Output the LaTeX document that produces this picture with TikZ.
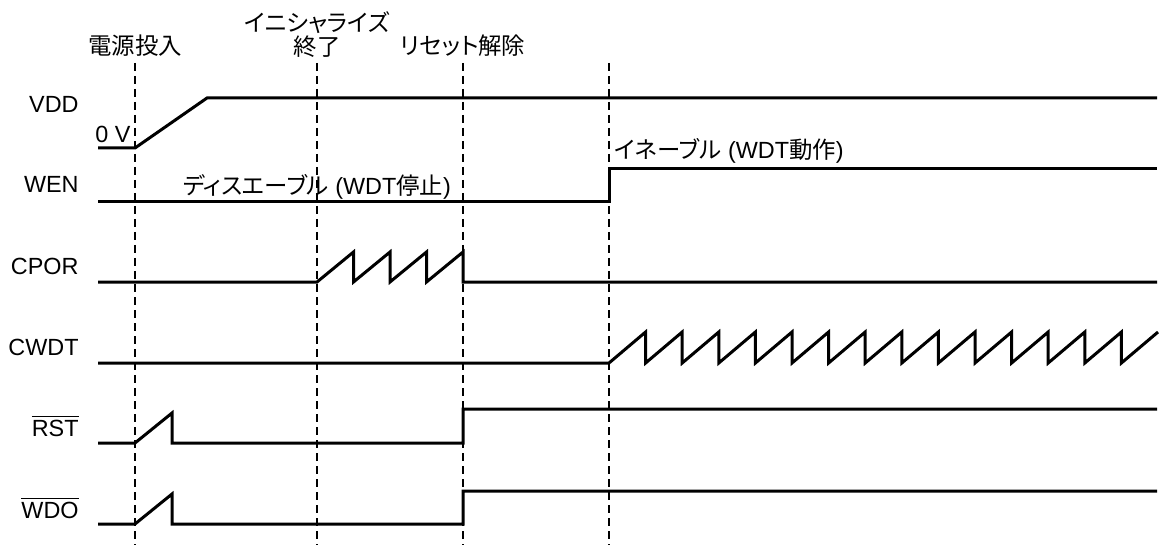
\documentclass[tikz,border=0pt]{standalone}
\usepackage{fontspec}
\setmainfont{Liberation Sans}
\newfontfamily\jp[RawFeature=+palt]{Noto Sans CJK JP}
\newcommand{\fsz}{\fontsize{11.7}{12}\selectfont}

\begin{document}
\begin{tikzpicture}[x=0.5pt,y=-0.5pt,font=\fsz,
    sig/.style={line width=1.5pt},
    guide/.style={line width=0.75pt,dash pattern=on 4pt off 2.5pt},
    lab/.style={inner sep=0pt},
    jplab/.style={inner sep=0pt,font=\fsz\jp}]
  \useasboundingbox (0,0) rectangle (1161,545);
  \def\p{36.6}
  % event marks
  \foreach \x/\n in {135/on,317/init,463/rel,609/en}{
    \coordinate (\n top) at (\x,63);
    \coordinate (\n bot) at (\x,545);
    \draw[guide] (\n top) -- (\n bot);
  }
  % signal names
  \foreach \y/\n/\lab in {113/vdd/VDD,193/wen/WEN,275/cpor/CPOR,355/cwdt/CWDT,
      436/rst/{$\overline{\mbox{RST}}$},518/wdo/{$\overline{\mbox{WDO}}$}}{
    \node[lab,anchor=base east] (\n) at (79,\y) {\lab};
  }
  % waveforms
  \draw[sig] (98,148) -- (135,148) -- (207,98) -- (1157,98);
  \draw[sig] (98,202) -- (609,202) -- (609,169) -- (1157,169);
  \draw[sig] (98,282) -- (317,282)
    foreach \i in {1,...,4}{ -- ({317+36.5*\i},252) -- ({317+36.5*\i},282) }
    -- (1157,282);
  \draw[sig] (98,363) -- (609,363)
    foreach \i in {1,...,14}{ -- ({609+\p*\i},332) -- ({609+\p*\i},363) }
    -- (1158,332);
  \foreach \lo/\hi/\pk in {443/409/413,524/491/494}{
    \draw[sig] (98,\lo) -- (135,\lo) -- (172,\pk) -- (172,\lo)
      -- (463,\lo) -- (463,\hi) -- (1157,\hi);
  }
  % annotations
  \node[lab,anchor=base east] (zero) at (131,143) {0 V};
  \node[jplab,anchor=base] (poweron) at (135,55) {電源投入};
  \node[jplab,anchor=south,align=center] (initend) at (317,58) {イニシャライズ\\終了};
  \node[jplab,anchor=base] (release) at (463,55) {リセット解除};
  \node[lab,anchor=base] (disable) at (317,195) {{\jp ディスエーブル} (WDT{\jp 停止})};
  \node[lab,anchor=base west] (enable) at (614,159) {{\jp イネーブル} (WDT{\jp 動作})};
\end{tikzpicture}
\end{document}
